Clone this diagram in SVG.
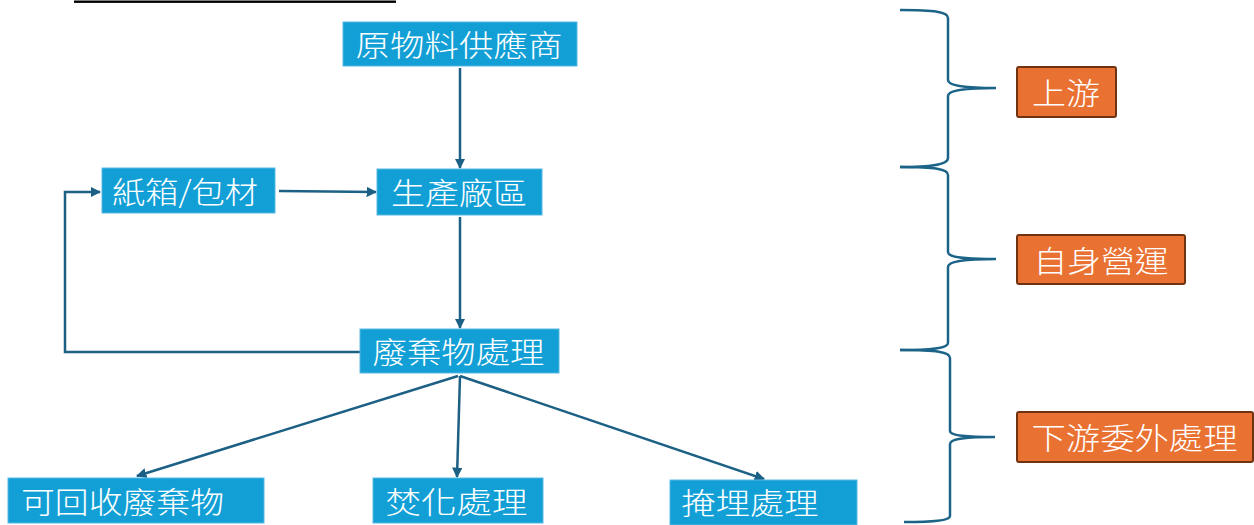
<svg xmlns="http://www.w3.org/2000/svg" width="1254" height="525" viewBox="0 0 1254 525">
<style>
.box{fill:#129fd6;stroke:#5ab9e3;stroke-width:1}
.obox{fill:#e97132;stroke:#6f3311;stroke-width:2}
.t{font-family:"Noto Sans CJK TC","Noto Sans CJK SC",sans-serif;font-weight:300;font-size:30px;fill:#ffffff;text-anchor:middle}
.c{fill:none;stroke:#1c6085;stroke-width:2.5}
.br{fill:none;stroke:#1c6388;stroke-width:2.5}
</style>
<defs>
<marker id="ah" viewBox="0 0 10 10" refX="9" refY="5" markerWidth="4.2" markerHeight="4.2" markerUnits="strokeWidth" orient="auto">
<path d="M0,0 L10,5 L0,10 Z" fill="#1c6085"/>
</marker>
</defs>
<rect x="74" y="0.5" width="322" height="2.4" fill="#000"/>
<g id="connectors">
<path class="c" d="M460,68 L460,168" marker-end="url(#ah)"/>
<path class="c" d="M279,191 L376,192" marker-end="url(#ah)"/>
<path class="c" d="M460,217 L460,328" marker-end="url(#ah)"/>
<path class="c" d="M360,352 L65,352 L65,192 L100,192" marker-end="url(#ah)"/>
<path class="c" d="M458,376 L137,476" marker-end="url(#ah)"/>
<path class="c" d="M460,376 L457,477" marker-end="url(#ah)"/>
<path class="c" d="M460,376 L764,479" marker-end="url(#ah)"/>
</g>
<g id="n1"><rect class="box" x="343" y="22" width="234" height="44"/><text class="t" x="459" y="56" textLength="207" lengthAdjust="spacingAndGlyphs">原物料供應商</text></g>
<g id="n2"><rect class="box" x="102" y="168" width="173" height="45"/><text class="t" x="185" y="202.5" textLength="146" lengthAdjust="spacingAndGlyphs">紙箱/包材</text></g>
<g id="n3"><rect class="box" x="377" y="169" width="165" height="46"/><text class="t" x="459" y="204" textLength="136" lengthAdjust="spacingAndGlyphs">生產廠區</text></g>
<g id="n4"><rect class="box" x="360" y="329" width="199" height="44"/><text class="t" x="458.5" y="363" textLength="172" lengthAdjust="spacingAndGlyphs">廢棄物處理</text></g>
<g id="n5"><rect class="box" x="8" y="478" width="256" height="45"/><text class="t" x="122.5" y="512.5" textLength="203" lengthAdjust="spacingAndGlyphs">可回收廢棄物</text></g>
<g id="n6"><rect class="box" x="373" y="478" width="170" height="45"/><text class="t" x="456.5" y="512.5" textLength="142" lengthAdjust="spacingAndGlyphs">焚化處理</text></g>
<g id="n7"><rect class="box" x="670" y="480" width="187" height="45"/><text class="t" x="750" y="514" textLength="137" lengthAdjust="spacingAndGlyphs">掩埋處理</text></g>
<g id="braces">
<path class="br" d="M900,10 C935,10 948,12 948,18 L948,80 C948,85 960,88 996,88 C960,88 948,91 948,96 L948,158 C948,164 935,167 900,167"/>
<path class="br" d="M900,167 C935,167 948,169 948,175 L948,252 C948,257 960,259 996,259 C960,259 948,262 948,267 L948,343 C948,348 935,350 900,350"/>
<path class="br" d="M900,350 C937,350 950,352 950,358 L950,431 C950,435 962,437 995,437 C962,437 950,439 950,444 L950,516 C950,520 937,522 904,522"/>
</g>
<g id="o1"><rect class="obox" x="1017" y="67" width="99" height="50" rx="2"/><text class="t" x="1066" y="104" textLength="68" lengthAdjust="spacingAndGlyphs">上游</text></g>
<g id="o2"><rect class="obox" x="1017" y="235" width="168" height="49" rx="2"/><text class="t" x="1101" y="272" textLength="135" lengthAdjust="spacingAndGlyphs">自身營運</text></g>
<g id="o3"><rect class="obox" x="1017" y="412" width="236" height="50" rx="2"/><text class="t" x="1134.5" y="449" textLength="206" lengthAdjust="spacingAndGlyphs">下游委外處理</text></g>
</svg>
